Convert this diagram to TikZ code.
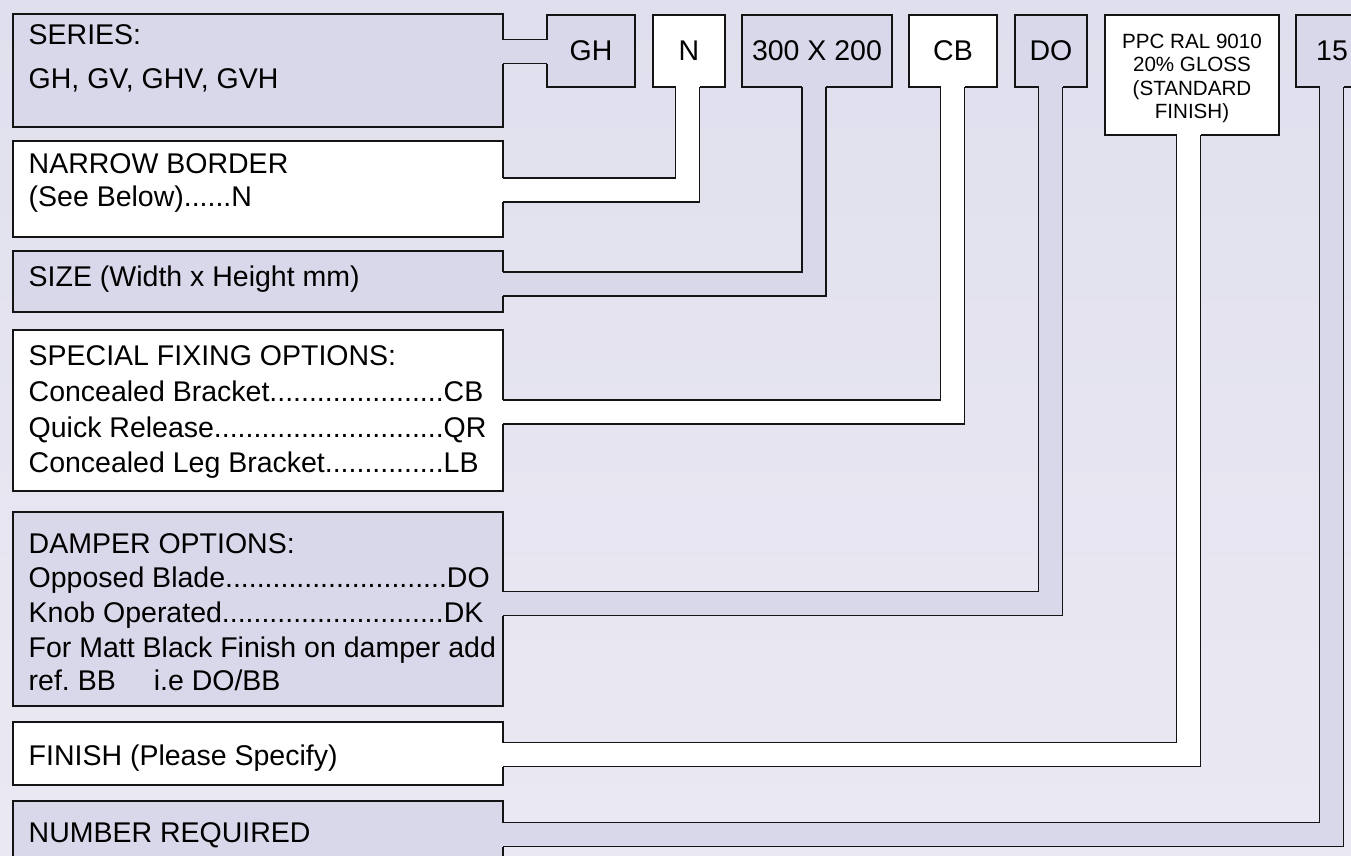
\documentclass[tikz,border=0pt]{standalone}
\usepackage{fontspec}
\setmainfont{Liberation Sans}
\usetikzlibrary{calc}
\definecolor{bgtop}{RGB}{224,223,237}
\definecolor{bgbot}{RGB}{234,233,243}
\definecolor{lav}{RGB}{217,216,234}
\definecolor{ink}{RGB}{20,20,20}
\newcommand{\mkconn}[4]{%
  \fill[#4] ($(#3 |- #1.south)+(-12,-2)$) rectangle ($(#3)+(12,12)$);
  \fill[#4] ($(#2.east |- #3)+(-2,-12)$) rectangle ($(#3)+(12,12)$);
  \draw[edge] ($(#3 |- #1.south)+(12,0)$) |- ($(#2.east |- #3)+(0,12)$);
  \draw[edge] ($(#3 |- #1.south)+(-12,0)$) |- ($(#2.east |- #3)+(0,-12)$);
}
\frenchspacing
\begin{document}
\begin{tikzpicture}[x=1pt,y=-1pt,
  box/.style={draw=ink, line width=1.5pt, rectangle, inner sep=0pt, outer sep=0pt, anchor=north west},
  lavbox/.style={box, fill=lav},
  whbox/.style={box, fill=white},
  bigfont/.style={font=\fontsize{28.5}{34}\selectfont},
  lbl/.style={anchor=base west, inner sep=0pt, bigfont},
  edge/.style={draw=ink, line width=1.5pt, line join=miter}]
\useasboundingbox (0,0) rectangle (1351,855);
\clip (0,0) rectangle (1351,855);
\shade[top color=bgtop, bottom color=bgbot] (0,0) rectangle (1351,855);

% left boxes
\node[lavbox, minimum width=490pt, minimum height=113pt] (series)  at (13,14)  {};
\node[whbox,  minimum width=490pt, minimum height=96pt]  (narrow)  at (13,141) {};
\node[lavbox, minimum width=490pt, minimum height=61pt]  (size)    at (13,251) {};
\node[whbox,  minimum width=490pt, minimum height=161pt] (special) at (13,330) {};
\node[lavbox, minimum width=490pt, minimum height=194pt] (damper)  at (13,512) {};
\node[whbox,  minimum width=490pt, minimum height=63pt]  (finish)  at (13,722) {};
\node[lavbox, minimum width=490pt, minimum height=100pt] (number)  at (13,801) {};

% top boxes
\node[lavbox, bigfont, minimum width=88pt,  minimum height=72pt] (tgh)   at (547,15)  {GH};
\node[whbox,  bigfont, minimum width=72pt,  minimum height=72pt] (tn)    at (653,15)  {N};
\node[lavbox, bigfont, minimum width=150pt, minimum height=72pt] (tsize) at (742,15)  {300 X 200};
\node[whbox,  bigfont, minimum width=88pt,  minimum height=72pt] (tcb)   at (909,15)  {CB};
\node[lavbox, bigfont, minimum width=72pt,  minimum height=72pt] (tdo)   at (1015,15) {DO};
\node[whbox, minimum width=174pt, minimum height=120pt] (tppc) at (1105,15) {};
\node[font=\fontsize{20.6}{23.6}\selectfont, align=center, inner sep=0pt] (tppct)
      at ($(tppc.center)+(0,3.5)$) {PPC RAL 9010\\20\% GLOSS\\(STANDARD\\FINISH)};
\node[lavbox, bigfont, minimum width=72pt,  minimum height=72pt] (tnum)  at (1296,15) {15};

% elbows of the connectors
\coordinate (k1) at (525,51.5);
\coordinate (k2) at (687.5,190);
\coordinate (k3) at (814,284);
\coordinate (k4) at (952.5,412);
\coordinate (k5) at (1050.5,603.5);
\coordinate (k6) at (1188.5,754.5);
\coordinate (k7) at (1331.5,834.5);

% SERIES -- GH
\fill[lav] ($(series.east |- k1)+(-2,-12)$) rectangle ($(tgh.west |- k1)+(2,12)$);
\draw[edge] ($(series.east |- k1)+(0,-12)$) -- ($(tgh.west |- k1)+(0,-12)$);
\draw[edge] ($(series.east |- k1)+(0,12)$) -- ($(tgh.west |- k1)+(0,12)$);

\mkconn{tn}{narrow}{k2}{white}
\mkconn{tsize}{size}{k3}{lav}
\mkconn{tcb}{special}{k4}{white}
\mkconn{tdo}{damper}{k5}{lav}
\mkconn{tppc}{finish}{k6}{white}
\mkconn{tnum}{number}{k7}{lav}

% texts
\node[lbl] (s1) at (28.5,44) {SERIES:};
\node[lbl] (s2) at (28.5,88) {GH, GV, GHV, GVH};
\node[lbl] (n1) at (28.5,173) {NARROW BORDER};
\node[lbl] (n2) at (28.5,206) {(See Below)......N};
\node[lbl] (z1) at (28.5,286) {SIZE (Width x Height mm)};
\node[lbl] (f1) at (28.5,365) {SPECIAL FIXING OPTIONS:};
\node[lbl] (f2) at (28.5,401) {Concealed Bracket......................CB};
\node[lbl] (f3) at (28.5,437) {Quick Release.............................QR};
\node[lbl] (f4) at (28.5,472) {Concealed Leg Bracket...............LB};
\node[lbl] (d1) at (28.5,553) {DAMPER OPTIONS:};
\node[lbl] (d2) at (28.5,587) {Opposed Blade............................DO};
\node[lbl] (d3) at (28.5,622) {Knob Operated............................DK};
\node[lbl] (d4) at (28.5,657) {For Matt Black Finish on damper add};
\node[lbl] (d5) at (28.5,690) {ref. BB\hspace{38pt}i.e DO/BB};
\node[lbl] (h1) at (28.5,765) {FINISH (Please Specify)};
\node[lbl] (r1) at (28.5,842) {NUMBER REQUIRED};
\end{tikzpicture}
\end{document}
